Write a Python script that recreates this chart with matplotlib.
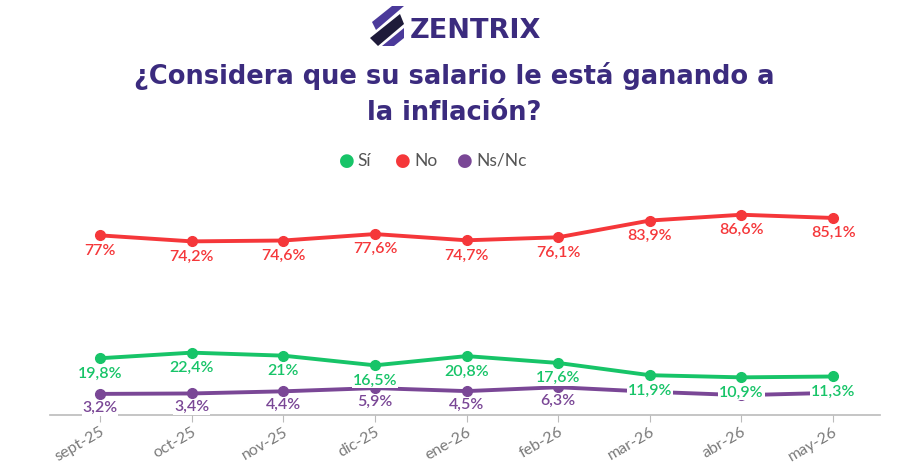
import matplotlib.pyplot as plt
from matplotlib.patches import Polygon

# datos
meses = ['sept-25', 'oct-25', 'nov-25', 'dic-25', 'ene-26', 'feb-26', 'mar-26', 'abr-26', 'may-26']
si = [19.8, 22.4, 21.0, 16.5, 20.8, 17.6, 11.9, 10.9, 11.3]
no = [77.0, 74.2, 74.6, 77.6, 74.7, 76.1, 83.9, 86.6, 85.1]
nsnc = [3.2, 3.4, 4.4, 5.9, 4.5, 6.3, 4.2, 2.6, 3.7]
# etiquetas de Ns/Nc visibles (las ultimas quedan tapadas)
nsnc_etiquetas = [True, True, True, True, True, True, False, False, False]

VERDE = '#17c468'
ROJO = '#f5373a'
MORADO = '#7a4796'
TITULO = '#3b2b7e'

plt.rcParams['font.family'] = ['Lato', 'DejaVu Sans']


def fmt(v):
    s = ('%.1f' % v).rstrip('0').rstrip('.')
    return s.replace('.', ',') + '%'


fig = plt.figure(figsize=(9, 4.67), dpi=100)
ax = fig.add_axes([0.0556, 0.111, 0.922, 0.46])

x = list(range(len(meses)))
series = [(nsnc, MORADO, 'Ns/Nc'), (si, VERDE, 'Sí'), (no, ROJO, 'No')]
for vals, color, nombre in series:
    ax.plot(x, vals, color=color, lw=2.8, marker='o', ms=7, solid_capstyle='round', zorder=3)

for i, v in enumerate(nsnc):
    if nsnc_etiquetas[i]:
        ax.annotate(fmt(v), (i, v), xytext=(0, -10), textcoords='offset points',
                    ha='center', va='center', color=MORADO, fontsize=11.5, fontweight='semibold',
                    bbox=dict(boxstyle='square,pad=0.05', fc='white', ec='none'), zorder=5)
for vals, color in [(si, VERDE), (no, ROJO)]:
    for i, v in enumerate(vals):
        ax.annotate(fmt(v), (i, v), xytext=(0, -11), textcoords='offset points',
                    ha='center', va='center', color=color, fontsize=11.5, fontweight='semibold',
                    bbox=dict(boxstyle='square,pad=0.05', fc='white', ec='none'), zorder=5)

ax.set_xlim(-0.546, 8.51)
ax.set_ylim(-6.7, 93.3)
ax.set_yticks([])
ax.set_xticks(x)
ax.set_xticklabels(meses, rotation=30, ha='right', rotation_mode='anchor',
                   color='#7a7a7a', fontsize=11.5)
ax.tick_params(axis='x', length=5, color='#bbbbbb', pad=2)
for s in ['top', 'right', 'left']:
    ax.spines[s].set_visible(False)
ax.spines['bottom'].set_color('#bbbbbb')
ax.spines['bottom'].set_linewidth(1.2)

# leyenda
leg_items = [('Sí', VERDE, 0.385), ('No', ROJO, 0.448), ('Ns/Nc', MORADO, 0.517)]
for nombre, color, xf in leg_items:
    fig.text(xf, 1 - 161 / 467, '●', color=color, fontsize=13, ha='center', va='center',
             family=['DejaVu Sans'])
    fig.text(xf + 0.012, 1 - 161 / 467, nombre, color='#555555', fontsize=12.5, ha='left', va='center')

# titulo
fig.text(0.505, 1 - 76 / 467, '¿Considera que su salario le está ganando a',
         ha='center', va='center', color=TITULO, fontsize=18.5, fontweight='bold',
         family=['DejaVu Sans'])
fig.text(0.505, 1 - 113 / 467, 'la inflación?',
         ha='center', va='center', color=TITULO, fontsize=18.5, fontweight='bold',
         family=['DejaVu Sans'])

# logo
W, H = 900, 467


def px(pts):
    return [(a / W, 1 - b / H) for a, b in pts]


fig.patches.append(Polygon(px([(372, 22), (392, 6), (404, 6), (376, 30)]), closed=True,
                           fc='#4b3a9a', ec='none', transform=fig.transFigure))
fig.patches.append(Polygon(px([(370, 38), (400, 14), (404, 24), (378, 46)]), closed=True,
                           fc='#1e1b3a', ec='none', transform=fig.transFigure))
fig.patches.append(Polygon(px([(382, 46), (404, 28), (404, 38), (394, 46)]), closed=True,
                           fc='#4b3a9a', ec='none', transform=fig.transFigure))
fig.text(410 / W, 1 - 31 / H, 'ZENTRIX', ha='left', va='center', color='#3b2b7e',
         fontsize=19.5, fontweight='bold', family=['DejaVu Sans'])

fig.savefig('out.png', dpi=100, facecolor='white')
